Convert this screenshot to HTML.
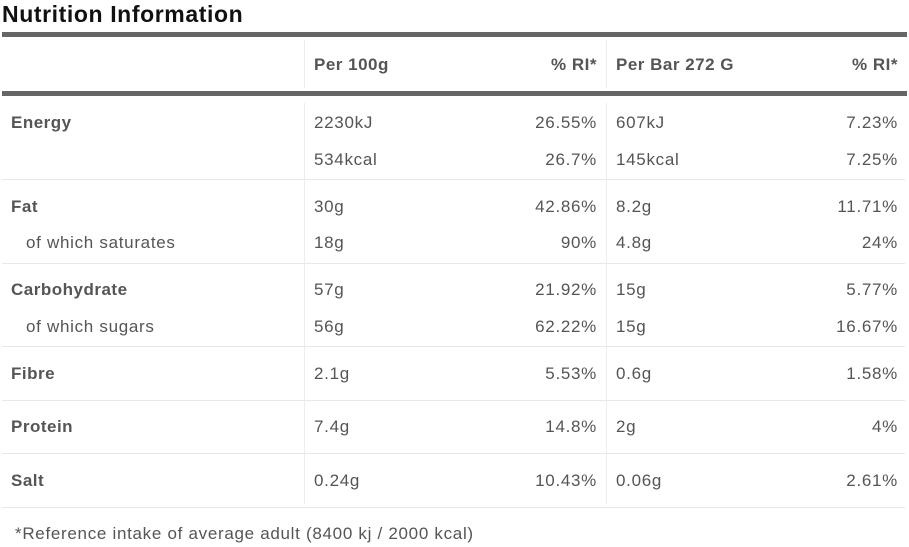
<!DOCTYPE html>
<html><head><meta charset="utf-8"><style>
body{margin:0;width:909px;height:547px;background:#fff;position:relative;overflow:hidden;font-family:"Liberation Sans",sans-serif;color:#555;}
div{position:absolute;}
.t{font-size:17px;line-height:20px;white-space:nowrap;letter-spacing:0.7px;}
.b{font-weight:bold;letter-spacing:0.5px;}
.r{text-align:right;}
.h{height:1px;background:#e8e8e8;left:2px;width:903px;}
.v{width:1px;background:#ececec;}
.bar{height:5px;background:#666;left:2px;width:905px;}
</style></head><body>
<div class="t b" style="left:2px;top:1px;font-size:23px;line-height:26px;color:#111;letter-spacing:0.6px;">Nutrition Information</div>
<div class="bar" style="top:32px"></div>
<div class="bar" style="top:91px"></div>
<div class="v" style="left:304px;top:40px;height:48px"></div>
<div class="v" style="left:606px;top:40px;height:48px"></div>
<div class="v" style="left:304px;top:103px;height:401px"></div>
<div class="v" style="left:606px;top:103px;height:401px"></div>
<div class="h" style="top:179px"></div>
<div class="h" style="top:263px"></div>
<div class="h" style="top:346px"></div>
<div class="h" style="top:400px"></div>
<div class="h" style="top:453px"></div>
<div class="h" style="top:507px"></div>

<div class="t b" style="left:314px;top:55px">Per 100g</div>
<div class="t b r" style="right:312px;top:55px">% RI*</div>
<div class="t b" style="left:616px;top:55px">Per Bar 272 G</div>
<div class="t b r" style="right:11px;top:55px">% RI*</div>

<div class="t b" style="left:11px;top:113px">Energy</div>
<div class="t" style="left:314px;top:113px">2230kJ</div>
<div class="t r" style="right:312px;top:113px">26.55%</div>
<div class="t" style="left:616px;top:113px">607kJ</div>
<div class="t r" style="right:11px;top:113px">7.23%</div>
<div class="t" style="left:314px;top:150px">534kcal</div>
<div class="t r" style="right:312px;top:150px">26.7%</div>
<div class="t" style="left:616px;top:150px">145kcal</div>
<div class="t r" style="right:11px;top:150px">7.25%</div>

<div class="t b" style="left:11px;top:197px">Fat</div>
<div class="t" style="left:314px;top:197px">30g</div>
<div class="t r" style="right:312px;top:197px">42.86%</div>
<div class="t" style="left:616px;top:197px">8.2g</div>
<div class="t r" style="right:11px;top:197px">11.71%</div>
<div class="t" style="left:26px;top:233px">of which saturates</div>
<div class="t" style="left:314px;top:233px">18g</div>
<div class="t r" style="right:312px;top:233px">90%</div>
<div class="t" style="left:616px;top:233px">4.8g</div>
<div class="t r" style="right:11px;top:233px">24%</div>

<div class="t b" style="left:11px;top:280px">Carbohydrate</div>
<div class="t" style="left:314px;top:280px">57g</div>
<div class="t r" style="right:312px;top:280px">21.92%</div>
<div class="t" style="left:616px;top:280px">15g</div>
<div class="t r" style="right:11px;top:280px">5.77%</div>
<div class="t" style="left:26px;top:317px">of which sugars</div>
<div class="t" style="left:314px;top:317px">56g</div>
<div class="t r" style="right:312px;top:317px">62.22%</div>
<div class="t" style="left:616px;top:317px">15g</div>
<div class="t r" style="right:11px;top:317px">16.67%</div>

<div class="t b" style="left:11px;top:364px">Fibre</div>
<div class="t" style="left:314px;top:364px">2.1g</div>
<div class="t r" style="right:312px;top:364px">5.53%</div>
<div class="t" style="left:616px;top:364px">0.6g</div>
<div class="t r" style="right:11px;top:364px">1.58%</div>

<div class="t b" style="left:11px;top:417px">Protein</div>
<div class="t" style="left:314px;top:417px">7.4g</div>
<div class="t r" style="right:312px;top:417px">14.8%</div>
<div class="t" style="left:616px;top:417px">2g</div>
<div class="t r" style="right:11px;top:417px">4%</div>

<div class="t b" style="left:11px;top:471px">Salt</div>
<div class="t" style="left:314px;top:471px">0.24g</div>
<div class="t r" style="right:312px;top:471px">10.43%</div>
<div class="t" style="left:616px;top:471px">0.06g</div>
<div class="t r" style="right:11px;top:471px">2.61%</div>

<div class="t" style="left:15px;top:524px">*Reference intake of average adult (8400 kj / 2000 kcal)</div>
</body></html>
